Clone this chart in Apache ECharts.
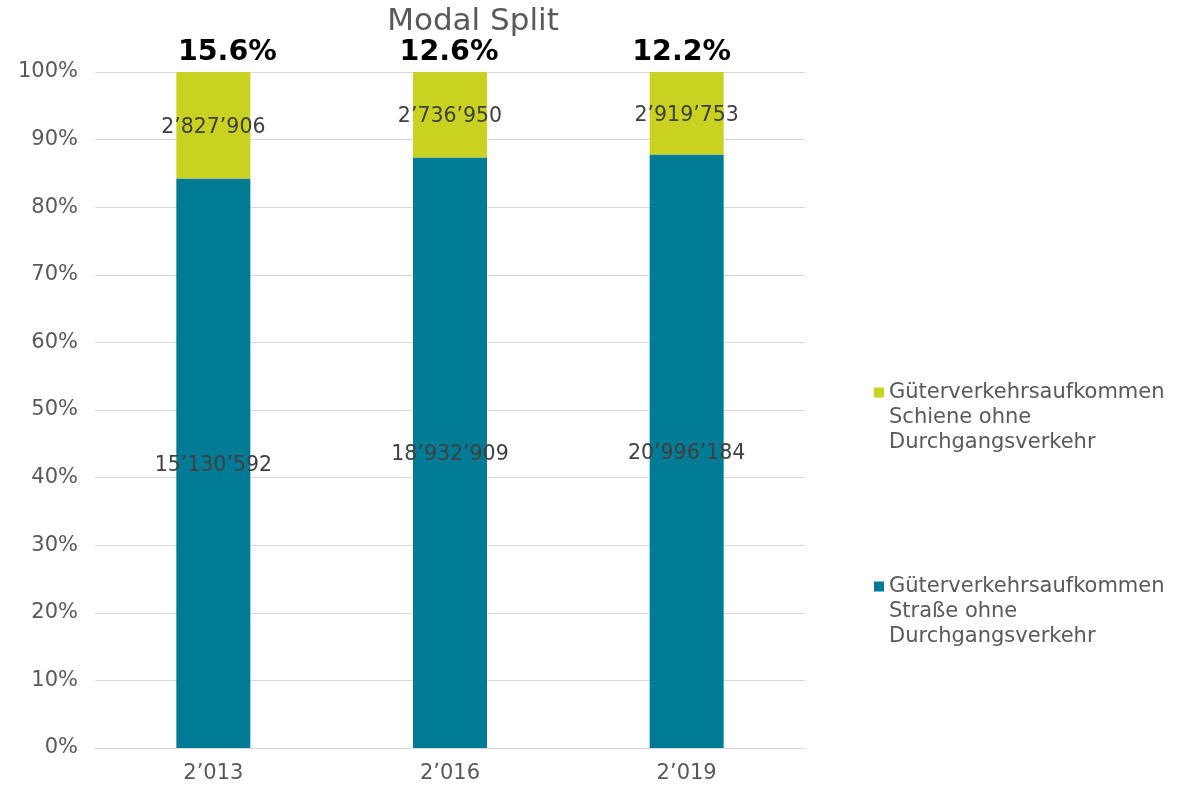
<!DOCTYPE html>
<html>
<head>
<meta charset="utf-8">
<script src="https://cdn.jsdelivr.net/npm/echarts@6/dist/echarts.min.js"></script>
<style>
html,body{margin:0;padding:0;background:#fff;}
#chart{width:1179px;height:786px;}
</style>
</head>
<body>
<div id="chart"></div>
<script>
const categories = ['2\u2019013', '2\u2019016', '2\u2019019'];
const roadValues = [15130592, 18932909, 20996184];
const railValues = [2827906, 2736950, 2919753];
const railShareLabels = ['15.6%', '12.6%', '12.2%'];
const railName = 'Güterverkehrsaufkommen\nSchiene ohne\nDurchgangsverkehr';
const roadName = 'Güterverkehrsaufkommen\nStraße ohne\nDurchgangsverkehr';

// layout: horizontal nudges of the share labels as placed in the original
const shareLabelNudge = [14, -1, -5];

const totals = roadValues.map((v, i) => v + railValues[i]);
const roadPct = roadValues.map((v, i) => v / totals[i] * 100);
const railPct = railValues.map((v, i) => v / totals[i] * 100);

function fmt(n) {
  return String(n).replace(/\B(?=(\d{3})+(?!\d))/g, '\u2019');
}

const FONT = '"DejaVu Sans", Verdana, sans-serif';
const chart = echarts.init(document.getElementById('chart'));
chart.setOption({
  backgroundColor: '#fff',
  animation: false,
  title: {
    text: 'Modal Split',
    left: 468, top: 1, textAlign: 'center',
    textStyle: {fontFamily: FONT, fontSize: 31, fontWeight: 'normal', color: '#595959'}
  },
  grid: {left: 95, right: 374, top: 72, bottom: 38},
  legend: {
    orient: 'vertical',
    left: 869, top: 325,
    itemWidth: 10, itemHeight: 10,
    itemGap: 69,
    icon: 'rect',
    data: [railName, roadName],
    formatter: n => '\n\n' + n,
    textStyle: {fontFamily: FONT, fontSize: 21, color: '#595959', lineHeight: 25}
  },
  xAxis: {
    type: 'category',
    data: categories,
    axisLine: {lineStyle: {color: '#d9d9d9', width: 1}},
    axisTick: {show: false},
    axisLabel: {fontFamily: FONT, fontSize: 21, color: '#595959', margin: 15}
  },
  yAxis: {
    type: 'value', min: 0, max: 100, interval: 10,
    axisLabel: {formatter: '{value}%', fontFamily: FONT, fontSize: 21, color: '#595959', margin: 17},
    splitLine: {lineStyle: {color: '#d9d9d9', width: 1}},
    axisLine: {show: false}, axisTick: {show: false}
  },
  series: [
    {
      name: roadName, type: 'bar', stack: 's', barWidth: 74,
      data: roadPct,
      itemStyle: {color: '#007B96'},
      label: {
        show: true, position: 'inside', offset: [0, 2],
        formatter: p => fmt(roadValues[p.dataIndex]),
        fontFamily: FONT, fontSize: 20.5, color: '#404040'
      }
    },
    {
      name: railName, type: 'bar', stack: 's', barWidth: 74,
      data: railPct,
      itemStyle: {color: '#C9D220'},
      label: {
        show: true, position: 'inside', offset: [0, 2],
        formatter: p => fmt(railValues[p.dataIndex]),
        fontFamily: FONT, fontSize: 20.5, color: '#404040'
      }
    },
    {
      name: 'top', type: 'bar', stack: 's', barWidth: 74,
      data: categories.map((c, i) => ({value: 0, label: {offset: [shareLabelNudge[i], 0]}})),
      silent: true,
      itemStyle: {color: 'transparent'},
      label: {
        show: true, position: 'top', distance: 5,
        formatter: p => railShareLabels[p.dataIndex],
        fontFamily: FONT, fontSize: 28.5, fontWeight: 'bold', color: '#000'
      }
    }
  ]
});
</script>
</body>
</html>
